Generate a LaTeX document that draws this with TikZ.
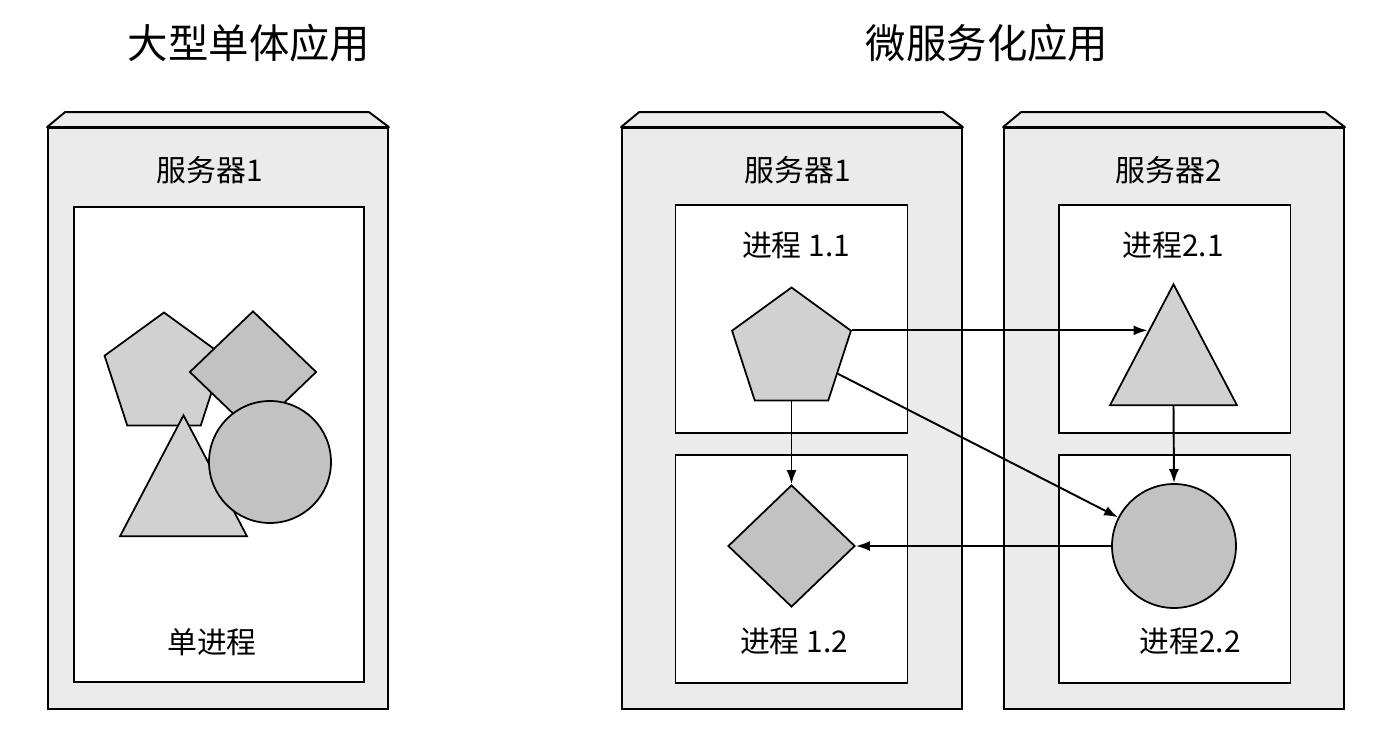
\documentclass[tikz,border=0pt]{standalone}
\usepackage{fontspec}
\setmainfont{Noto Sans CJK SC}
\usetikzlibrary{shapes.geometric,arrows.meta,positioning,calc}

\definecolor{srvgray}{gray}{0.92}
\definecolor{lightshape}{gray}{0.82}
\definecolor{darkshape}{gray}{0.76}

\begin{document}
\begin{tikzpicture}[x=0.02cm, y=-0.02cm, line width=1.1pt, >={Latex[length=2.8mm,width=2mm]},
    server/.style = {draw, fill=srvgray, line width=1.1pt, minimum width=6.8cm, minimum height=11.62cm, inner sep=0},
    bevel/.style = {draw, fill=srvgray, line width=1.1pt, line join=round},
    procbox/.style = {draw, fill=white, line width=1.1pt, minimum width=4.64cm, minimum height=4.56cm, inner sep=0},
    title/.style = {font=\fontsize{23}{27}\selectfont},
    txt/.style = {font=\fontsize{17}{20}\selectfont},
    pent/.style = {draw, fill=lightshape, line width=1pt, regular polygon, regular polygon sides=5, minimum size=2.5cm, inner sep=0},
    dia/.style = {draw, fill=darkshape, line width=1pt, diamond, minimum width=2.54cm, minimum height=2.44cm, inner sep=0},
    tri/.style = {draw, fill=lightshape, line width=1pt, isosceles triangle, isosceles triangle stretches, shape border rotate=90, minimum width=2.54cm, minimum height=2.42cm, inner sep=0},
    circ/.style = {draw, fill=darkshape, line width=1pt, circle, minimum size=2.48cm, inner sep=0}]
    \useasboundingbox (0,0) rectangle (1386,736);

    % titles
    \node[title] (titleA) at (249,43) {大型单体应用};
    \node[title] (titleB) at (987,43) {微服务化应用};

    % servers
    \node[server] (srvA) at (218,418.5) {};
    \node[server] (srvB) at (792,418.5) {};
    \node[server] (srvC) at (1174,418.5) {};
    \draw[bevel] (srvA.north west) -- ++(0.36cm,0.3cm) -- ++(6.08cm,0) -- (srvA.north east) -- cycle;
    \draw[bevel] (srvB.north west) -- ++(0.36cm,0.3cm) -- ++(6.08cm,0) -- (srvB.north east) -- cycle;
    \draw[bevel] (srvC.north west) -- ++(0.36cm,0.3cm) -- ++(6.08cm,0) -- (srvC.north east) -- cycle;
    \node[txt] (srvAname) at (210,170) {服务器1};
    \node[txt] (srvBname) at (798,170) {服务器1};
    \node[txt] (srvCname) at (1169,170) {服务器2};

    % processes
    \node[procbox, minimum width=5.8cm, minimum height=9.5cm] (procA) at (219,444.5) {};
    \node[procbox] (p11) at (791.5,319) {};
    \node[procbox] (p12) [below=0.4cm of p11] {};
    \node[procbox] (p21) at (1174.5,319) {};
    \node[procbox] (p22) [below=0.4cm of p21] {};
    \node[txt] (procAname) at (212,642) {单进程};
    \node[txt] (p11name) at (796,245) {进程 1.1};
    \node[txt] (p12name) at (794,641) {进程 1.2};
    \node[txt] (p21name) at (1173,245) {进程2.1};
    \node[txt] (p22name) at (1190,641) {进程2.2};

    % shapes, single process
    \node[pent] (pentA) at (164,375) {};
    \node[dia] (diaA) at (253,372) {};
    \node[tri, anchor=apex] (triA) at (183.5,413) {};
    \node[circ, minimum size=2.44cm] (circA) at (270,462) {};

    % shapes, microservices
    \node[pent] (pent11) at (791.5,350) {};
    \node[dia] (dia12) at (791.5,546) {};
    \node[tri, anchor=apex] (tri21) at (1173.5,282) {};
    \node[circ] (circ22) at (1174,546) {};
    \coordinate (triHit) at ($(tri21.apex)!0.4!(tri21.left corner)$);

    \draw[->] (pent11.corner 5) -- (pent11.corner 5 -| triHit);
    \draw[->] (pent11) -- (circ22);
    \draw[->] (pent11.south) -- (dia12.north);
    \draw[->] (tri21.lower side) -- (circ22.north);
    \draw[->] (circ22.west) -- (dia12.east);
\end{tikzpicture}
\end{document}
